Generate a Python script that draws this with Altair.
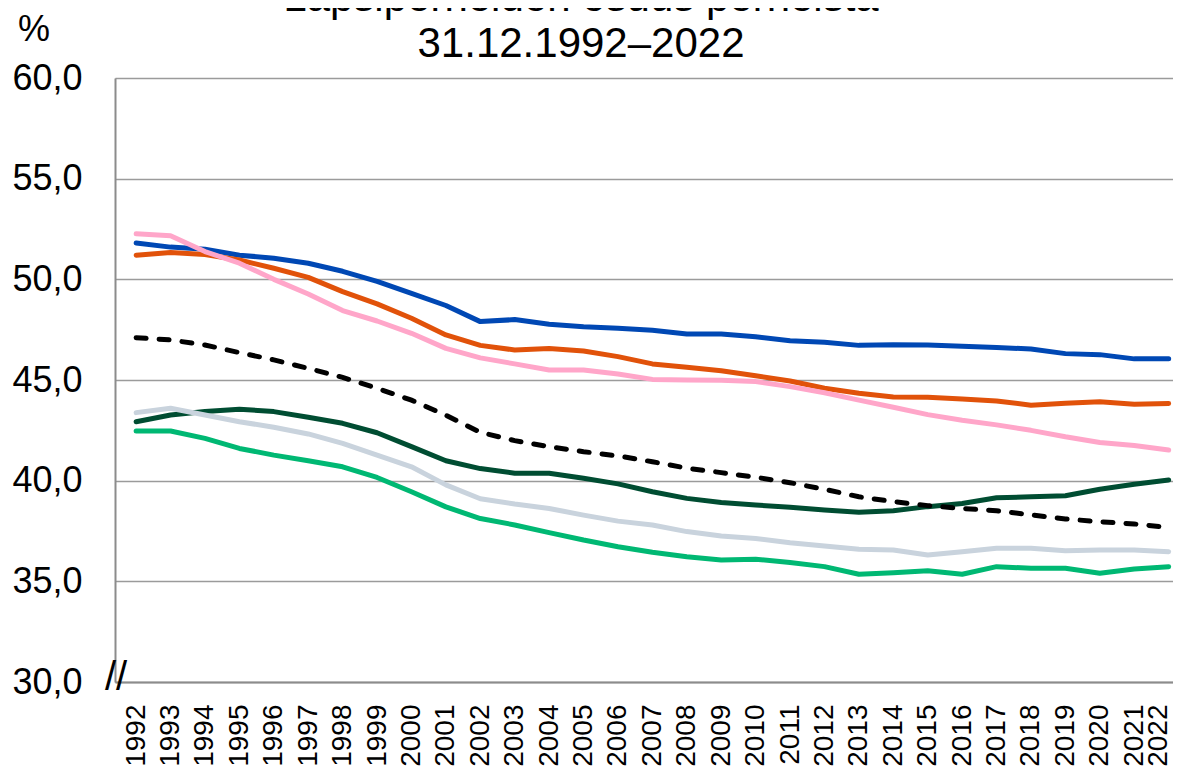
import altair as alt
import pandas as pd

years = list(range(1992, 2023))

title_line1 = "Lapsiperheiden osuus perheistä"
title_line2 = "31.12.1992–2022"
unit_label = "%"
break_mark = "//"

series_names = ["Alue A", "Alue B", "Alue C", "Alue D", "Alue E", "Alue F"]
series_colors = ["#0048B4", "#E1520A", "#FFA6C9", "#004D32", "#C9D3DD", "#00B873"]
total_name = "Koko maa"

blue = [51.8, 51.6, 51.5, 51.2, 51.05, 50.8, 50.4, 49.9, 49.3, 48.7,
        47.9, 48.0, 47.77, 47.65, 47.57, 47.47, 47.28, 47.28, 47.15, 46.95,
        46.88, 46.72, 46.75, 46.74, 46.68, 46.62, 46.54, 46.31, 46.26, 46.05,
        46.05]
orange = [51.2, 51.33, 51.23, 50.96, 50.55, 50.1, 49.39, 48.78, 48.07, 47.24,
          46.72, 46.49, 46.57, 46.44, 46.16, 45.8, 45.63, 45.46, 45.21, 44.95,
          44.59, 44.34, 44.16, 44.14, 44.06, 43.96, 43.75, 43.85, 43.92, 43.8,
          43.83]
pink = [52.26, 52.16, 51.38, 50.8, 50.0, 49.27, 48.45, 47.93, 47.32, 46.57,
        46.1, 45.8, 45.5, 45.5, 45.3, 45.03, 45.0, 44.99, 44.92, 44.67,
        44.37, 44.0, 43.65, 43.28, 43.0, 42.77, 42.5, 42.18, 41.9, 41.75,
        41.52]
darkgreen = [42.93, 43.26, 43.43, 43.55, 43.43, 43.15, 42.85, 42.38, 41.69, 40.99,
             40.6, 40.37, 40.37, 40.12, 39.84, 39.45, 39.12, 38.92, 38.79, 38.68,
             38.54, 38.43, 38.51, 38.71, 38.87, 39.15, 39.2, 39.25, 39.57, 39.82,
             40.03]
gray = [43.38, 43.6, 43.26, 42.93, 42.65, 42.32, 41.85, 41.27, 40.69, 39.79,
        39.1, 38.84, 38.62, 38.29, 37.99, 37.8, 37.47, 37.25, 37.13, 36.92,
        36.76, 36.59, 36.56, 36.31, 36.47, 36.64, 36.64, 36.52, 36.56, 36.56,
        36.47]
green = [42.47, 42.47, 42.1, 41.6, 41.27, 40.99, 40.69, 40.16, 39.45, 38.7,
         38.12, 37.8, 37.42, 37.05, 36.72, 36.44, 36.22, 36.06, 36.1, 35.93,
         35.73, 35.35, 35.43, 35.53, 35.35, 35.73, 35.65, 35.65, 35.4, 35.61,
         35.73]
total = [47.1, 46.99, 46.74, 46.36, 46.0, 45.58, 45.13, 44.59, 44.0, 43.25,
         42.4, 41.99, 41.69, 41.44, 41.23, 40.94, 40.62, 40.4, 40.17, 39.9,
         39.57, 39.2, 38.96, 38.76, 38.62, 38.51, 38.3, 38.1, 37.96, 37.85,
         37.68]

y_ticks = [30, 35, 40, 45, 50, 55, 60]

all_series = [blue, orange, pink, darkgreen, gray, green]
rows = []
for order, (name, vals) in enumerate(zip(series_names, all_series)):
    for yr, v in zip(years, vals):
        rows.append({"Vuosi": str(yr), "Osuus": v, "Sarja": name, "order": order})
df = pd.DataFrame(rows)
df_total = pd.DataFrame({"Vuosi": [str(y) for y in years], "Osuus": total, "Sarja": total_name})

FONT = "Liberation Sans"
year_labels = [str(y) for y in years]
last_year = year_labels[-1]

x_enc = alt.X(
    "Vuosi:O",
    sort=year_labels,
    scale=alt.Scale(type="point", domain=year_labels, padding=0.37, align=0.83),
    axis=alt.Axis(
        labelAngle=-90, labelFontSize=28, labelAlign="right", labelBaseline="middle",
        labelPadding=22, labelOverlap=False, labelBound=False,
        labelOffset={"condition": {"test": f"datum.value == '{last_year}'", "value": -10}, "value": 0},
        ticks=False, grid=False, domainColor="#8c8c8c", domainWidth=2,
        labelColor="black", labelFont=FONT, title=None,
    ),
)
y_enc = alt.Y(
    "Osuus:Q",
    scale=alt.Scale(domain=[30, 60], nice=False, zero=False),
    axis=alt.Axis(
        values=y_ticks, labelExpr="replace(format(datum.value, '.1f'), '.', ',')",
        labelFontSize=36, labelPadding=33, ticks=False, grid=True,
        gridColor="#9b9b9b", gridWidth=1.5, domainColor="#8c8c8c", domainWidth=2,
        labelColor="black", labelFont=FONT, title=None,
    ),
)

lines = alt.Chart(df).mark_line(strokeWidth=5, strokeCap="round", strokeJoin="round").encode(
    x=x_enc,
    y=y_enc,
    color=alt.Color("Sarja:N", scale=alt.Scale(domain=series_names, range=series_colors), legend=None),
    order=alt.Order("order:Q"),
)

dashed = alt.Chart(df_total).mark_line(
    strokeWidth=5, strokeCap="round", strokeDash=[10, 13], color="black"
).encode(x=x_enc, y=y_enc)

def label(text, x, y, size, align="center"):
    return alt.Chart(pd.DataFrame({"t": [text]})).mark_text(
        font=FONT, fontSize=size, align=align, baseline="alphabetic", color="black"
    ).encode(text="t:N", x=alt.value(x), y=alt.value(y))

t1 = label(title_line1, 466, -67, 42)
t2 = label(title_line2, 466, -21, 42)
pct = label(unit_label, -81, -37, 36)
brk = alt.Chart(pd.DataFrame({"t": [break_mark]})).mark_text(
    font=FONT, fontSize=40, align="center", baseline="middle", color="black"
).encode(text="t:N", x=alt.value(1), y=alt.value(600))

chart = alt.layer(lines, dashed, t1, t2, pct, brk).properties(
    width=1058,
    height=604,
    padding={"left": 107, "top": 70, "right": 0, "bottom": 86},
    autosize=alt.AutoSizeParams(type="none"),
).configure_view(stroke=None).configure(background="white")

chart.save("out.html", embed_options={"renderer": "svg", "actions": False})
